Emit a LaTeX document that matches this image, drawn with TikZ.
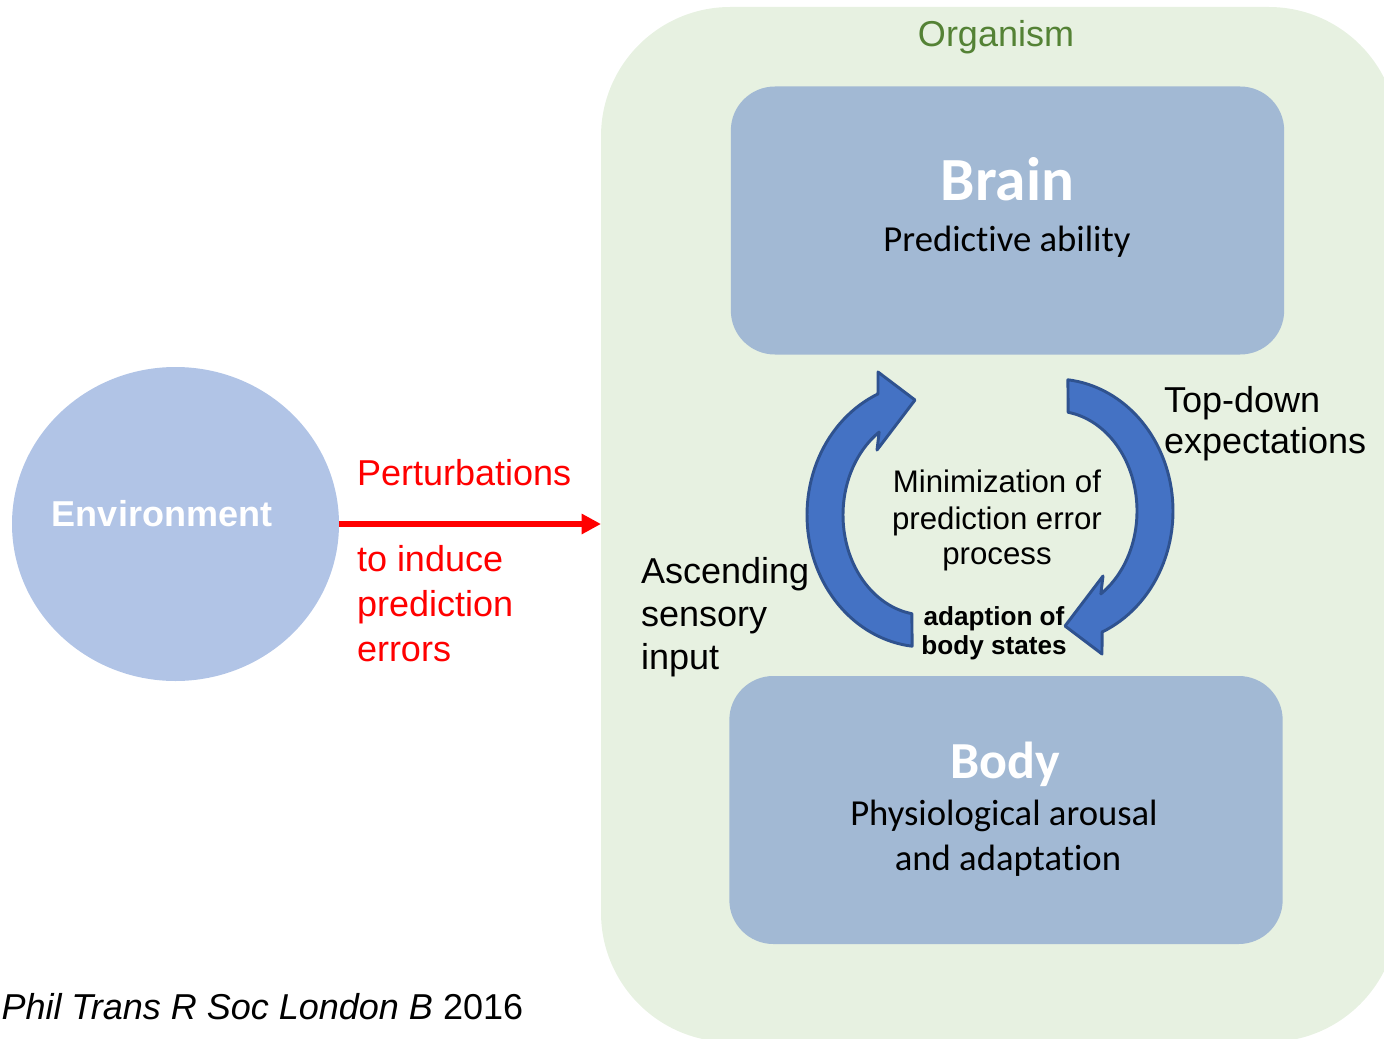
\documentclass[tikz,border=0pt]{standalone}
\usepackage{fontspec}
\setmainfont{Liberation Sans}
\newfontfamily\calibrifont[Ligatures=NoCommon]{Carlito}
\usetikzlibrary{shapes.geometric,arrows.meta}
\definecolor{orgbg}{HTML}{E7F1E1}
\definecolor{orggreen}{HTML}{548235}
\definecolor{boxblue}{HTML}{A2B9D4}
\definecolor{envblue}{HTML}{B1C4E6}
\definecolor{loopfill}{HTML}{4472C4}
\definecolor{loopline}{HTML}{2F528F}
\begin{document}
\begin{tikzpicture}[x=0.75pt,y=-0.75pt,
  every node/.style={inner sep=0pt, outer sep=0pt},
  txt/.style={font=\fontsize{27}{32}\selectfont, anchor=base west},
  ctxt/.style={font=\fontsize{23.4}{28}\selectfont, anchor=base},
  btxt/.style={font=\fontsize{19.6}{24}\selectfont\bfseries, anchor=base},
  redtxt/.style={txt, text=red},
  boxstyle/.style={rectangle, rounded corners=33pt, fill=boxblue, minimum width=415pt, minimum height=201pt},
  titletxt/.style={font=\calibrifont\fontsize{46}{50}\selectfont\bfseries, text=white, anchor=base},
  subtxt/.style={font=\calibrifont\fontsize{27.5}{32}\selectfont, anchor=base},
  loopshape/.style={fill=loopfill, draw=loopline, line width=2.2pt, line join=round},
  redarrow/.style={draw=red, line width=5pt, -{Triangle[length=14.5pt,width=14.5pt]}}
]
\useasboundingbox (0,0) rectangle (1384,1038);
\clip (0,0) rectangle (1384,1038);

% organism background
\node (org) [rectangle, rounded corners=97pt, fill=orgbg, minimum width=597.75pt, minimum height=776.25pt] at (999.5,524.5) {};
\node (orgtitle) [txt, anchor=base, text=orggreen] at (996,46.7) {Organism};

% brain and body boxes
\node (brain) [boxstyle] at (1007.5,220.5) {};
\node (braintitle) [titletxt] at (1007.5,200) {Brain};
\node (brainsub) [subtxt] at (1007,251.7) {Predictive ability};

\node (body) [boxstyle] at (1006,810) {};
\node (bodytitle) [titletxt, font=\calibrifont\fontsize{39}{44}\selectfont\bfseries] at (1005,778.3) {Body};
\node (bodysub1) [subtxt] at (1004,825.7) {Physiological arousal};
\node (bodysub2) [subtxt] at (1008,870) {and adaptation};

% environment
\node (env) [ellipse, fill=envblue, minimum width=245.25pt, minimum height=235.5pt] at (175.5,524) {};
\node (envtxt) [txt, anchor=base, text=white, font=\fontsize{27}{32}\selectfont\bfseries] at (162,526.7) {Environment};

% red arrow
\draw[redarrow] (env.east) -- (env.east -| org.west);
\node (pert) [redtxt] at (357,485) {Perturbations};
\node (ind1) [redtxt] at (357,571.7) {to induce};
\node (ind2) [redtxt] at (357,616.5) {prediction};
\node (ind3) [redtxt] at (357,661) {errors};

% circular arrows
\path[loopshape] (912.1,646.2)
  -- plot[domain=263.7:113.5,samples=60] ({925+118*cos(\x)},{515-132*sin(\x)})
  -- (878,372) -- (915,400) -- (877,450)
  -- plot[domain=124:260.8,samples=60] ({925+82*cos(\x)},{515-100*sin(\x)})
  -- cycle;
\begin{scope}[rotate around={180:(990,513)}]
\path[loopshape] (912.1,646.2)
  -- plot[domain=263.7:113.5,samples=60] ({925+118*cos(\x)},{515-132*sin(\x)})
  -- (878,372) -- (915,400) -- (877,450)
  -- plot[domain=124:260.8,samples=60] ({925+82*cos(\x)},{515-100*sin(\x)})
  -- cycle;
\end{scope}

% central texts
\node (min1) [ctxt] at (997,492.7) {Minimization of};
\node (min2) [ctxt] at (997,529.3) {prediction error};
\node (min3) [ctxt] at (997,564.5) {process};
\node (ad1) [btxt] at (994,625) {adaption of};
\node (ad2) [btxt] at (994,654) {body states};

% side labels
\node (td1) [txt] at (1164,412.7) {Top-down};
\node (td2) [txt] at (1164,453) {expectations};
\node (as1) [txt] at (641,583) {Ascending};
\node (as2) [txt] at (641,626) {sensory};
\node (as3) [txt] at (641,669) {input};

% citation
\node (cite) [txt] at (1.5,1019) {\itshape Phil Trans R Soc London B\/ \upshape 2016};
\end{tikzpicture}
\end{document}
